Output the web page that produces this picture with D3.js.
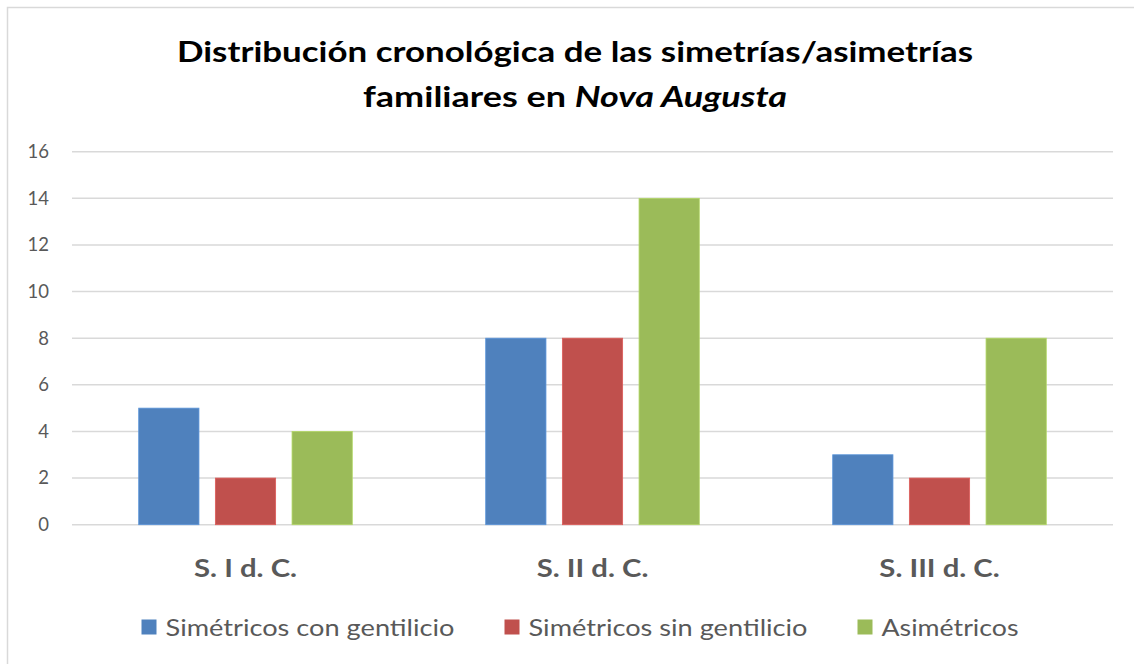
<!DOCTYPE html>
<html>
<head>
<meta charset="utf-8">
<script src="https://cdn.jsdelivr.net/npm/d3@7"></script>
<style>
  html, body { margin: 0; padding: 0; background: #fff; }
  svg { display: block; }
</style>
</head>
<body>
<svg id="chart" width="1134" height="664"></svg>
<script>
const categories = ["S. I d. C.", "S. II d. C.", "S. III d. C."];
const seriesNames = ["Simétricos con gentilicio", "Simétricos sin gentilicio", "Asimétricos"];
const simetricosConGentilicio = [5, 8, 3];
const simetricosSinGentilicio = [2, 8, 2];
const asimetricos = [4, 14, 8];
const yTicks = [0, 2, 4, 6, 8, 10, 12, 14, 16];
const colors = ["#4F81BD", "#C0504D", "#9BBB59"];
const titleLine1 = "Distribución cronológica de las simetrías/asimetrías";
const titleLine2a = "familiares en ";
const titleLine2b = "Nova Augusta";

const seriesValues = [simetricosConGentilicio, simetricosSinGentilicio, asimetricos];

const svg = d3.select("#chart");
const FONT = "Lato, 'Open Sans', sans-serif";
const textColor = "#595959";

// chart border
svg.append("rect")
  .attr("x", 7.5).attr("y", 7.5)
  .attr("width", 1140).attr("height", 680)
  .attr("fill", "none").attr("stroke", "#D9D9D9").attr("stroke-width", 1.5);

const plot = { left: 72, right: 1113, top: 151.7, bottom: 524.7 };

const y = d3.scaleLinear().domain([0, 16]).range([plot.bottom, plot.top]);
const x0 = d3.scaleBand().domain(categories).range([plot.left, plot.right]).padding(0);
const x1 = d3.scaleBand().domain(seriesNames).range([0, x0.bandwidth()])
  .paddingInner(0.214).paddingOuter(0.87);

// gridlines
svg.append("g").selectAll("line").data(yTicks).join("line")
  .attr("x1", plot.left).attr("x2", plot.right)
  .attr("y1", d => y(d)).attr("y2", d => y(d))
  .attr("stroke", "#D9D9D9").attr("stroke-width", 1.5);

// y tick labels via axis
const yAxis = svg.append("g")
  .attr("transform", `translate(${plot.left},0)`)
  .call(d3.axisLeft(y).tickValues(yTicks).tickSize(0).tickPadding(23));
yAxis.select(".domain").remove();
yAxis.selectAll("text")
  .attr("font-family", FONT).attr("font-size", 18.5).attr("fill", textColor);

// bars
const groups = svg.append("g").selectAll("g").data(categories).join("g")
  .attr("transform", d => `translate(${x0(d)},0)`);
groups.selectAll("rect")
  .data((c, i) => seriesNames.map((s, j) => ({ s, j, v: seriesValues[j][i] })))
  .join("rect")
  .attr("x", d => x1(d.s))
  .attr("width", x1.bandwidth())
  .attr("y", d => y(d.v))
  .attr("height", d => y(0) - y(d.v))
  .attr("fill", d => colors[d.j])
  .attr("stroke", d => d3.color(colors[d.j]).brighter(0.4))
  .attr("stroke-width", 0.8);

// category labels via axis
const xAxis = svg.append("g")
  .attr("transform", `translate(0,${plot.bottom})`)
  .call(d3.axisBottom(x0).tickSize(0).tickPadding(0));
xAxis.select(".domain").remove();
const catTexts = xAxis.selectAll("text")
  .attr("font-family", FONT).attr("font-size", 25).attr("font-weight", "bold")
  .attr("fill", textColor).attr("dy", null).attr("y", 52);
// fit widths roughly like the reference (first label 103px)
const w0 = catTexts.nodes()[0].getComputedTextLength();
const catScale = 103 / w0;
catTexts.each(function () {
  const w = this.getComputedTextLength();
  d3.select(this).attr("textLength", w * catScale).attr("lengthAdjust", "spacingAndGlyphs");
});

// title
const cx = 575;
svg.append("text")
  .attr("x", cx).attr("y", 62).attr("text-anchor", "middle")
  .attr("font-family", FONT).attr("font-size", 28).attr("font-weight", "bold").attr("fill", "#000")
  .attr("textLength", 796).attr("lengthAdjust", "spacingAndGlyphs")
  .text(titleLine1);
const t2 = svg.append("text")
  .attr("x", cx).attr("y", 107).attr("text-anchor", "middle")
  .attr("font-family", FONT).attr("font-size", 28).attr("font-weight", "bold").attr("fill", "#000")
  .attr("textLength", 424).attr("lengthAdjust", "spacingAndGlyphs");
t2.append("tspan").text(titleLine2a);
t2.append("tspan").attr("font-style", "italic").text(titleLine2b);

// legend
const legendTextWidths = [289, 279, 137];
const sw = 15, swGap = 9, itemGap = 50;
const totalW = legendTextWidths.reduce((a, w) => a + sw + swGap + w, 0) + itemGap * (seriesNames.length - 1);
let lx = 580 - totalW / 2;
const legend = svg.append("g");
seriesNames.forEach((s, i) => {
  legend.append("rect")
    .attr("x", lx).attr("y", 619.5).attr("width", sw).attr("height", sw)
    .attr("fill", colors[i]);
  legend.append("text")
    .attr("x", lx + sw + swGap).attr("y", 635.5)
    .attr("font-family", FONT).attr("font-size", 24).attr("fill", textColor)
    .attr("textLength", legendTextWidths[i]).attr("lengthAdjust", "spacingAndGlyphs")
    .text(s);
  lx += sw + swGap + legendTextWidths[i] + itemGap;
});
</script>
</body>
</html>
